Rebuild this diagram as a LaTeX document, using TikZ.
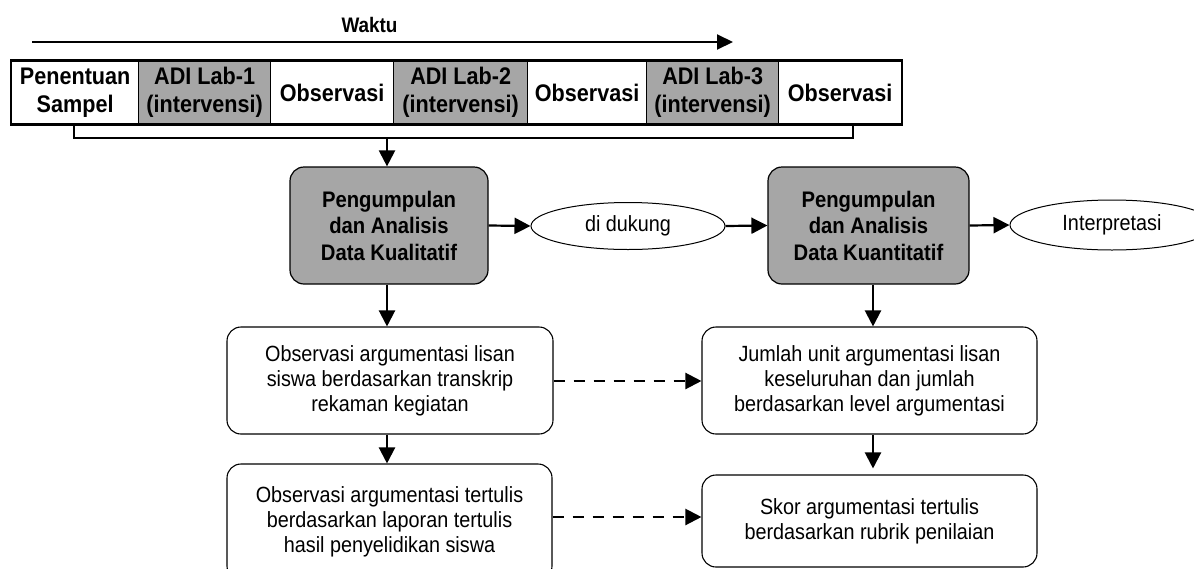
\documentclass[tikz,border=0pt]{standalone}
\usepackage{fontspec}
\setmainfont{Liberation Sans}[FakeStretch=0.9]
\usetikzlibrary{arrows.meta,shapes.geometric}
\definecolor{cellgray}{RGB}{166,166,166}
\newcommand{\topfont}{\bfseries\fontsize{24}{27.5}\selectfont}
\newcommand{\midfont}{\bfseries\fontsize{22.5}{26.5}\selectfont}
\newcommand{\regfont}{\fontsize{22}{25}\selectfont}
\newcommand{\timefont}{\bfseries\fontsize{21}{24}\selectfont}
\begin{document}
\begin{tikzpicture}[x=1pt,y=-1pt,
  cell/.style={draw, line width=1.3pt, minimum height=63pt, inner sep=0pt, align=center, font=\topfont, anchor=west},
  gbox/.style={draw, fill=cellgray, rounded corners=14pt, line width=1.2pt, minimum width=198pt, minimum height=117pt, inner sep=0pt, align=center, font=\midfont},
  wbox/.style={draw, fill=white, rounded corners=14pt, line width=1.1pt, inner sep=0pt, align=center, font=\regfont},
  ell/.style={draw, ellipse, line width=1pt, inner sep=0pt, font=\regfont},
  conn/.style={line width=2.2pt, -{Triangle[length=16pt,width=16pt]}},
  dconn/.style={line width=2.2pt, dash pattern=on 11pt off 9pt, -{Triangle[length=16pt,width=16pt]}},
  bracket/.style={line width=1.8pt}
]
\useasboundingbox (0,0) rectangle (1194,568);
\clip (0,0) rectangle (1194,568);

% time arrow
\coordinate (ws) at (32,42);
\coordinate (we) at (733,42);
\draw[line width=2pt, -{Triangle[length=16pt,width=15pt]}] (ws) -- (we);
\node[font=\timefont] (waktu) at (369.5,25) {Waktu};

% top row
\node[cell, fill=white, minimum width=127pt] (c1) at (11,92.5) {Penentuan\\Sampel};
\node[cell, fill=cellgray, minimum width=132pt] (c2) at (138,92.5) {ADI Lab-1\\(intervensi)};
\node[cell, fill=white, minimum width=123pt] (c3) at (270,92.5) {Observasi};
\node[cell, fill=cellgray, minimum width=134pt] (c4) at (393,92.5) {ADI Lab-2\\(intervensi)};
\node[cell, fill=white, minimum width=119pt] (c5) at (527,92.5) {Observasi};
\node[cell, fill=cellgray, minimum width=132pt] (c6) at (646,92.5) {ADI Lab-3\\(intervensi)};
\node[cell, fill=white, minimum width=123pt] (c7) at (778,92.5) {Observasi};
\draw[line width=2.2pt] (c1.north west) rectangle (c7.south east);

% bracket
\coordinate (b1) at (74,124);
\coordinate (b2) at (74,138);
\coordinate (b3) at (853,138);
\coordinate (b4) at (853,124);
\coordinate (bm) at (387,138);
\draw[bracket] (b1) -- (b2) -- (b3) -- (b4);

% middle row
\node[gbox] (qual) at (389,225.5) {Pengumpulan\\dan Analisis\\Data Kualitatif};
\node[ell, minimum width=194pt, minimum height=47pt] (dukung) at (628,226) {di dukung};
\node[gbox, minimum width=201pt] (quant) at (868.5,225.5) {Pengumpulan\\dan Analisis\\Data Kuantitatif};
\node[ell, minimum width=204pt, minimum height=50pt] (interp) at (1112,225) {Interpretasi};

% lower boxes
\node[wbox, minimum width=326pt, minimum height=107pt] (L1) at (390,380.5)
  {Observasi argumentasi lisan\\siswa berdasarkan transkrip\\rekaman kegiatan};
\node[wbox, minimum width=325pt, minimum height=116pt] (L2) at (389.5,522)
  {Observasi argumentasi tertulis\\berdasarkan laporan tertulis\\hasil penyelidikan siswa};
\node[wbox, minimum width=335pt, minimum height=107pt] (R1) at (869.5,380.5)
  {Jumlah unit argumentasi lisan\\keseluruhan dan jumlah\\berdasarkan level argumentasi};
\node[wbox, minimum width=335pt, minimum height=92pt] (R2) at (869.5,521)
  {Skor argumentasi tertulis\\berdasarkan rubrik penilaian};

% connectors
\draw[conn] (bm) -- (bm |- qual.north);
\draw[conn] (qual.east) -- (dukung.west);
\draw[conn] (dukung.east) -- (quant.west);
\draw[conn] (quant.east) -- (interp.west);
\coordinate (qx) at (387,0);
\coordinate (kx) at (873,0);
\draw[conn] (qx |- qual.south) -- (qx |- L1.north);
\draw[conn] (qx |- L1.south) -- (qx |- L2.north);
\draw[conn] (kx |- quant.south) -- (kx |- R1.north);
\draw[conn, shorten >=6pt] (kx |- R1.south) -- (kx |- R2.north);
\coordinate (d1) at (0,381);
\coordinate (d2) at (0,517);
\draw[dconn] (L1.east |- d1) -- (R1.west |- d1);
\draw[dconn] (L2.east |- d2) -- (R2.west |- d2);
\end{tikzpicture}
\end{document}
